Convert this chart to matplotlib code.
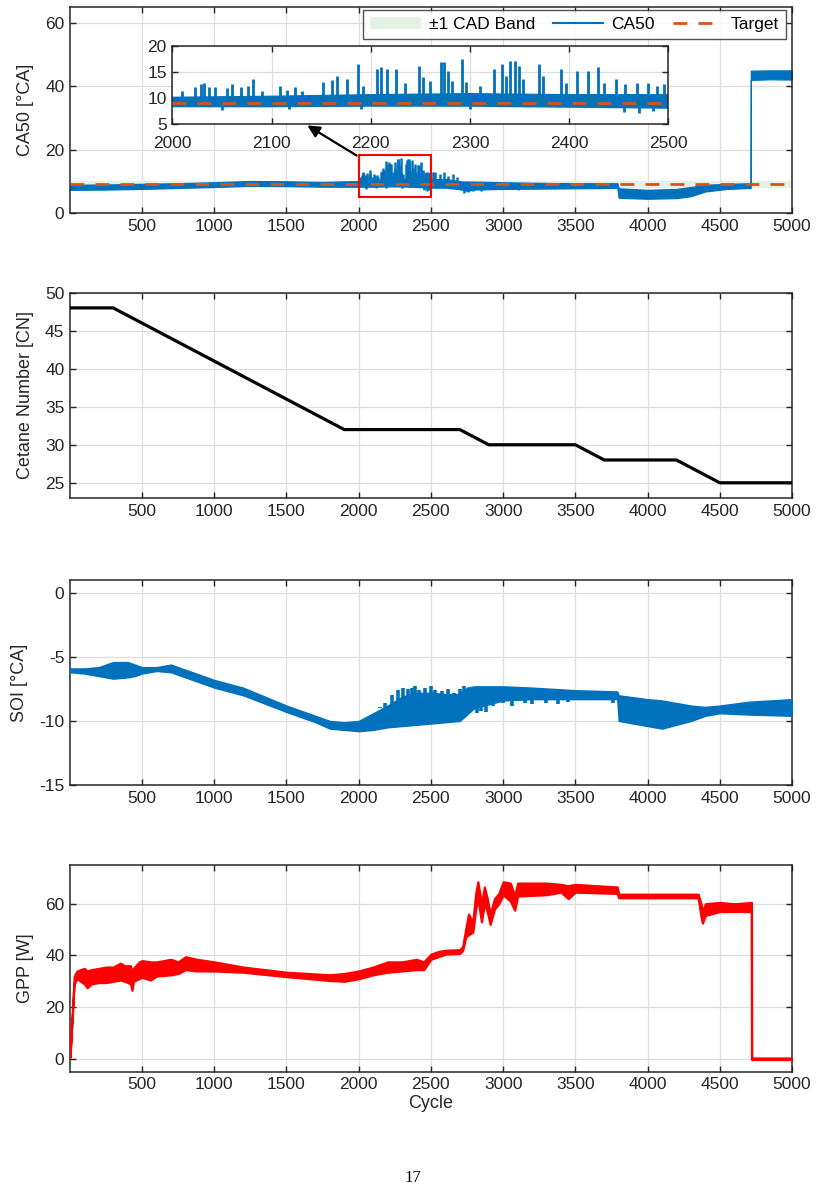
import matplotlib
matplotlib.use("Agg")
import matplotlib.pyplot as plt
from matplotlib.patches import Rectangle, Patch, FancyArrowPatch
from matplotlib.lines import Line2D

plt.rcParams['font.family'] = ['Liberation Sans', 'DejaVu Sans']
plt.rcParams['axes.unicode_minus'] = False

# ---------------- data ----------------
ca50_target = 9.0
ca50_band = 1.0

# CA50 envelope (cycle, lower, upper)
ca50_cyc = [1, 250, 500, 750, 1000, 1250, 1500, 1750, 2000, 2100, 2200, 2300, 2400, 2500,
            2600, 2700, 2750, 2800, 3000, 3250, 3500, 3790, 3800, 4000, 4200, 4300, 4400,
            4550, 4714, 4715, 4850, 5000]
ca50_lo = [7.3, 7.4, 7.6, 7.9, 8.2, 8.6, 8.5, 8.3, 8.3, 8.3, 8.4, 8.4, 8.2, 8.0,
           8.0, 7.5, 7.0, 7.4, 7.6, 7.7, 7.8, 7.9, 4.8, 4.5, 4.7, 5.3, 6.8,
           7.6, 7.9, 42.0, 42.2, 42.1]
ca50_hi = [8.9, 9.0, 9.2, 9.4, 9.7, 10.1, 10.0, 9.8, 10.1, 10.3, 10.6, 10.8, 10.6, 10.6,
           10.8, 10.0, 9.9, 9.9, 9.7, 9.5, 9.4, 9.4, 7.8, 7.3, 7.6, 8.2, 8.9,
           9.2, 9.4, 44.9, 45.0, 45.0]

# CA50 spike peaks (cycle, peak value)
spike_cyc = [2010, 2023, 2029, 2032, 2037, 2043, 2055, 2060, 2069, 2076, 2081, 2090, 2109,
             2116, 2124, 2131, 2152, 2161, 2166, 2176, 2187, 2192, 2206, 2210, 2216, 2225,
             2235, 2249, 2253, 2260, 2271, 2274, 2278, 2282, 2292, 2296, 2310, 2324, 2332,
             2336, 2340, 2345, 2349, 2354, 2370, 2374, 2392, 2397, 2408, 2419, 2429, 2435,
             2447, 2456, 2468, 2480, 2489, 2496,
             2515, 2530, 2560, 2590, 2620, 2650, 2680]
spike_val = [11.3, 12.0, 12.6, 12.9, 12.1, 12.0, 11.8, 12.7, 12.0, 12.3, 13.7, 11.3, 12.3,
             11.6, 12.0, 11.3, 13.0, 13.4, 14.3, 13.6, 16.5, 12.3, 15.6, 16.0, 15.5, 15.6,
             12.9, 16.1, 14.1, 13.2, 16.9, 17.0, 15.2, 13.2, 17.4, 13.0, 12.3, 15.6, 16.6,
             14.2, 17.1, 17.1, 16.1, 13.6, 16.6, 14.2, 15.5, 12.9, 15.2, 15.2, 16.0, 12.9,
             13.7, 12.6, 12.9, 12.9, 12.3, 12.6,
             12.8, 13.0, 12.2, 12.8, 11.8, 12.2, 11.5]
# CA50 dips (cycle, minimum value)
dip_cyc = [2050, 2118, 2190, 2300, 2455, 2470, 2485, 2730, 2760, 2790, 2850, 3100]
dip_val = [7.6, 7.9, 7.9, 7.8, 7.3, 7.0, 7.4, 6.3, 6.6, 6.8, 7.0, 7.2]

# Cetane number
cn_cyc = [1, 300, 1900, 2700, 2900, 3500, 3700, 4200, 4500, 5000]
cn_val = [48, 48, 32, 32, 30, 30, 28, 28, 25, 25]

# SOI envelope
soi_cyc = [1, 100, 200, 300, 400, 450, 500, 600, 700, 800, 1000, 1200, 1500, 1700, 1800,
           1900, 2000, 2100, 2200, 2300, 2400, 2500, 2600, 2700, 2750, 2800, 3000, 3200,
           3500, 3790, 3800, 4000, 4100, 4300, 4400, 4500, 4700, 5000]
soi_lo = [-6.2, -6.3, -6.5, -6.7, -6.6, -6.5, -6.3, -6.1, -6.2, -6.6, -7.4, -8.0, -9.3,
          -10.1, -10.6, -10.7, -10.8, -10.7, -10.5, -10.4, -10.3, -10.2, -10.1, -10.0,
          -9.5, -9.0, -8.4, -8.3, -8.3, -8.3, -10.0, -10.4, -10.6, -10.0, -9.6, -9.4,
          -9.5, -9.6]
soi_hi = [-5.9, -5.9, -5.8, -5.4, -5.4, -5.6, -5.8, -5.8, -5.6, -6.0, -6.8, -7.4, -8.8,
          -9.6, -10.0, -10.1, -10.0, -9.4, -8.8, -8.1, -7.8, -7.8, -7.9, -7.9, -7.4,
          -7.3, -7.3, -7.4, -7.6, -7.7, -8.0, -8.3, -8.4, -8.8, -8.9, -8.8, -8.5, -8.3]
# SOI upward spikes (cycle, peak) and downward dips (cycle, minimum)
soi_spk_cyc = [2150, 2180, 2230, 2270, 2310, 2340, 2370, 2390, 2420, 2460, 2500, 2530,
               2580, 2620, 2660, 2700, 2730]
soi_spk_val = [-8.9, -8.6, -8.0, -7.6, -7.4, -7.5, -7.4, -7.3, -7.6, -7.4, -7.3, -7.6,
               -7.7, -7.5, -7.8, -7.5, -7.3]
soi_dip_cyc = [2820, 2850, 2880, 2930, 3000, 3060, 3150, 3200, 3300, 3380, 3450, 3700, 3760]
soi_dip_val = [-9.4, -9.2, -9.3, -8.8, -8.6, -8.8, -8.6, -8.7, -8.6, -8.7, -8.5, -8.4, -8.6]

# GPP envelope
gpp_cyc = [1, 30, 50, 100, 120, 150, 200, 250, 300, 350, 380, 420, 430, 440, 480, 500,
           560, 600, 700, 750, 800, 880, 1000, 1200, 1500, 1800, 1900, 2000, 2100, 2200,
           2300, 2400, 2450, 2500, 2550, 2600, 2700, 2720, 2740, 2760, 2790, 2810, 2825,
           2850, 2870, 2890, 2910, 2940, 2970, 3000, 3050, 3080, 3100, 3300, 3400, 3450,
           3500, 3790, 3800, 4350, 4370, 4380, 4400, 4500, 4600, 4719, 4720, 5000]
gpp_lo = [0.5, 29, 31, 29, 27.5, 29, 29.5, 29.5, 30, 30.5, 30, 29, 26.5, 30, 31, 31.5,
          30.5, 32, 32.5, 33, 34.5, 34, 34, 33.5, 31.8, 30.3, 30, 31, 32.5, 33.5,
          34, 34.5, 34.5, 38.5, 39.5, 40.5, 40.8, 42, 47, 48, 49, 58, 62,
          53, 60, 57, 52, 58, 60, 63.5, 61, 57.5, 63, 63.5, 64.5, 62,
          64.5, 64, 62.3, 62.3, 55, 52.5, 55.5, 57, 57, 57, -0.3, -0.3]
gpp_hi = [1.5, 32, 34, 35, 34, 34.5, 35, 35.5, 35.5, 37, 36, 36, 33, 35, 37.5, 38,
          37.5, 37.5, 38.5, 37.5, 39.5, 38.5, 37.5, 35.5, 33.5, 32.5, 33, 34, 35.5, 37.5,
          37.5, 38.5, 37.5, 40.5, 41.5, 42, 42.2, 43.5, 50, 56, 53, 64, 68.5,
          60, 66.5, 62, 56, 62, 64, 68.5, 68, 63, 68, 68, 67.5, 67,
          67.5, 66.5, 63.7, 63.7, 60, 57, 60, 60.5, 60, 60.5, 0.3, 0.3]

xticks = [500, 1000, 1500, 2000, 2500, 3000, 3500, 4000, 4500, 5000]

# ---------------- style ----------------
BLUE = '#0072BD'
ORANGE = '#D95319'
BAND = '#E4F1E4'
GRID = '#DDDDDD'
AX = '#262626'
FS = 12.5

W, H = 818, 1192
fig = plt.figure(figsize=(W / 100, H / 100), dpi=100)


def px_axes(x0, y0, x1, y1):
    return fig.add_axes([x0 / W, 1 - y1 / H, (x1 - x0) / W, (y1 - y0) / H])


def style(ax):
    for s in ax.spines.values():
        s.set_color(AX)
        s.set_linewidth(1.1)
    ax.tick_params(direction='in', length=4, width=1.0, colors=AX, labelsize=FS,
                   top=True, right=True, pad=4)
    ax.grid(True, color=GRID, linewidth=0.9)
    ax.set_axisbelow(True)


def ca50_draw(ax, lw_sp):
    ax.axhspan(ca50_target - ca50_band, ca50_target + ca50_band, color=BAND, lw=0, zorder=1)
    ax.fill_between(ca50_cyc, ca50_lo, ca50_hi, color=BLUE, lw=0.9, edgecolor=BLUE, zorder=2)
    ax.vlines(spike_cyc, 9.5, spike_val, color=BLUE, lw=lw_sp, zorder=2)
    ax.vlines(dip_cyc, dip_val, 8.6, color=BLUE, lw=lw_sp, zorder=2)
    ax.axhline(ca50_target, color=ORANGE, lw=2.0, dashes=(5, 4), zorder=3)


# ---- panel 1 : CA50 ----
ax1 = px_axes(70, 7, 792, 213)
style(ax1)
ca50_draw(ax1, 1.8)
ax1.set_xlim(1, 5000)
ax1.set_ylim(0, 65)
ax1.set_xticks(xticks)
ax1.set_yticks([0, 20, 40, 60])
ax1.set_ylabel('CA50 [°CA]', fontsize=FS + 0.5, color=AX, labelpad=8)
ax1.add_patch(Rectangle((2000, 5), 500, 13.3, fill=False, edgecolor='#FF0000', lw=1.5, zorder=5))

handles = [Patch(facecolor=BAND, edgecolor='none'),
           Line2D([], [], color=BLUE, lw=1.5),
           Line2D([], [], color=ORANGE, lw=2.0, dashes=(5, 4))]
leg = ax1.legend(handles, ['±1 CAD Band', 'CA50', 'Target'], ncol=3, loc='upper right',
                 bbox_to_anchor=(0.992, 0.985), fontsize=FS, frameon=True, fancybox=False,
                 handlelength=2.9, columnspacing=1.05, handletextpad=0.45, borderpad=0.4,
                 borderaxespad=0.0)
leg.get_frame().set_edgecolor(AX)
leg.get_frame().set_linewidth(1.0)
leg.set_zorder(10)

# inset
axi = px_axes(172.3, 46, 668.3, 123.7)
style(axi)
axi.tick_params(axis='x', pad=9)
ca50_draw(axi, 2.0)
axi.set_xlim(2000, 2500)
axi.set_ylim(5, 20)
axi.set_xticks([2000, 2100, 2200, 2300, 2400, 2500])
axi.set_yticks([5, 10, 15, 20])
axi.set_zorder(11)

fig.add_artist(FancyArrowPatch(
    posA=(359 / W, 1 - 157 / H), posB=(305 / W, 1 - 124 / H), transform=fig.transFigure,
    arrowstyle='-|>', mutation_scale=18, color='black', lw=1.6, zorder=12))

# ---- panel 2 : Cetane ----
ax2 = px_axes(70, 292.7, 792, 498)
style(ax2)
ax2.plot(cn_cyc, cn_val, color='black', lw=2.3, zorder=3)
ax2.set_xlim(1, 5000)
ax2.set_ylim(23, 50)
ax2.set_xticks(xticks)
ax2.set_yticks([25, 30, 35, 40, 45, 50])
ax2.set_ylabel('Cetane Number [CN]', fontsize=FS + 0.5, color=AX, labelpad=8)

# ---- panel 3 : SOI ----
ax3 = px_axes(70, 580, 792, 785)
style(ax3)
ax3.fill_between(soi_cyc, soi_lo, soi_hi, color=BLUE, edgecolor=BLUE, lw=1.0, zorder=3)
ax3.vlines(soi_spk_cyc, -9.0, soi_spk_val, color=BLUE, lw=2.6, zorder=3)
ax3.vlines(soi_dip_cyc, soi_dip_val, -7.8, color=BLUE, lw=2.6, zorder=3)
ax3.set_xlim(1, 5000)
ax3.set_ylim(-15, 1)
ax3.set_xticks(xticks)
ax3.set_yticks([-15, -10, -5, 0])
ax3.set_ylabel('SOI [°CA]', fontsize=FS + 0.5, color=AX, labelpad=8)

# ---- panel 4 : GPP ----
ax4 = px_axes(70, 865, 792, 1071.7)
style(ax4)
ax4.fill_between(gpp_cyc, gpp_lo, gpp_hi, color='#FF0000', edgecolor='#FF0000', lw=1.6, zorder=3)
ax4.set_xlim(1, 5000)
ax4.set_ylim(-5, 75)
ax4.set_xticks(xticks)
ax4.set_yticks([0, 20, 40, 60])
ax4.set_ylabel('GPP [W]', fontsize=FS + 0.5, color=AX, labelpad=8)
ax4.set_xlabel('Cycle', fontsize=FS + 0.5, color=AX, labelpad=2)

fig.text(413 / W, 1 - 1178 / H, '17', ha='center', va='center', fontsize=12,
         family=['Liberation Serif', 'DejaVu Serif'])

fig.savefig('out.png', dpi=100)
